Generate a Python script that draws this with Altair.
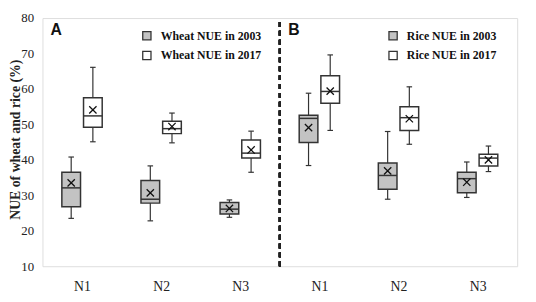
import altair as alt
import pandas as pd

# ---- data ----
levels = ["N1", "N2", "N3"]
crops = ["Wheat", "Rice"]
years = ["2003", "2017"]

# stats order per level: whisker_low, q1, median, q3, whisker_high, mean
wheat_2003 = [[23.5, 26.8, 32.1, 36.5, 40.8, 33.5],
              [22.8, 27.8, 28.9, 34.2, 38.3, 30.7],
              [23.8, 24.7, 26.1, 28.0, 28.7, 26.3]]
wheat_2017 = [[45.1, 49.2, 52.4, 57.5, 66.1, 54.1],
              [44.8, 47.4, 48.8, 50.9, 53.2, 49.4],
              [36.5, 40.5, 41.9, 45.6, 48.1, 42.8]]
rice_2003 = [[38.4, 44.9, 51.7, 52.6, 58.8, 49.1],
             [28.9, 31.7, 35.6, 39.1, 48.0, 36.9],
             [29.4, 30.7, 34.7, 36.5, 39.4, 33.7]]
rice_2017 = [[48.3, 56.0, 59.3, 63.7, 69.6, 59.4],
             [44.4, 48.3, 51.9, 55.0, 60.6, 51.6],
             [36.7, 38.3, 40.5, 41.6, 43.9, 40.0]]

panel_labels = ["A", "B"]
y_ticks = [10, 20, 30, 40, 50, 60, 70, 80]

series = {("Wheat", "2003"): wheat_2003, ("Wheat", "2017"): wheat_2017,
          ("Rice", "2003"): rice_2003, ("Rice", "2017"): rice_2017}

rows = []
for ci, crop in enumerate(crops):
    for yr in years:
        for li, lev in enumerate(levels):
            lo, q1, med, q3, hi, mean = series[(crop, yr)][li]
            rows.append(dict(crop=crop, year=yr, level=lev, slot=ci * 3 + li,
                             series=f"{crop} NUE in {yr}",
                             lo=lo, q1=q1, med=med, q3=q3, hi=hi, mean=mean))
df = pd.DataFrame(rows)

GRAY = "#c3c3c3"
STROKE = "#333333"
SERIF = "Liberation Serif"

xscale = alt.Scale(domain=[0, 6], nice=False, zero=False)
yscale = alt.Scale(domain=[10, 80], nice=False, zero=False)

label_js = "[" + ",".join(f"'{l}'" for l in levels * 2) + "]"

base = alt.Chart(df).transform_calculate(
    c="datum.slot + 0.5 + (datum.year == '2003' ? -0.137 : 0.137)"
).transform_calculate(
    bl="datum.c - 0.118", br="datum.c + 0.118",
    cl="datum.c - 0.035", cr="datum.c + 0.035"
)

xaxis = alt.Axis(values=[0.5, 1.5, 2.5, 3.5, 4.5, 5.5],
                 labelExpr=f"{label_js}[floor(datum.value)]",
                 title=None, grid=False, ticks=False, domain=False,
                 labelFont=SERIF, labelFontSize=14, labelColor="#222",
                 labelPadding=14)
yaxis = alt.Axis(values=y_ticks, tickCount=8, title="NUE of wheat and rice (%)",
                 grid=False, ticks=False, domain=False, labelFont=SERIF,
                 labelFontSize=13, labelColor="#222", labelPadding=9,
                 labelOverlap=False, labelFlush=False,
                 titleFont=SERIF, titleFontSize=14, titleFontWeight="bold",
                 titleColor="#222", titleBaseline="bottom",
                 titleX=-20, titleY=123)

whisk = base.mark_rule(color=STROKE, strokeWidth=1.2).encode(
    x=alt.X("c:Q", scale=xscale, axis=xaxis),
    y=alt.Y("lo:Q", scale=yscale, axis=yaxis),
    y2="hi:Q")
cap_lo = base.mark_rule(color=STROKE, strokeWidth=1.2).encode(
    x="cl:Q", x2="cr:Q", y="lo:Q")
cap_hi = base.mark_rule(color=STROKE, strokeWidth=1.2).encode(
    x="cl:Q", x2="cr:Q", y="hi:Q")


def boxes(crop, lx):
    dom = [f"{crop} NUE in {y}" for y in years]
    return base.transform_filter(f"datum.crop == '{crop}'").mark_rect(
        stroke=STROKE, strokeWidth=1.5).encode(
        x="bl:Q", x2="br:Q", y="q1:Q", y2="q3:Q",
        fill=alt.Fill("series:N", scale=alt.Scale(domain=dom, range=[GRAY, "white"]),
                      legend=alt.Legend(title=None, orient="none", legendX=lx,
                                        legendY=12, symbolType="square",
                                        symbolSize=70, symbolStrokeColor=STROKE,
                                        symbolStrokeWidth=1.3,
                                        labelFont=SERIF, labelFontSize=12,
                                        labelFontWeight="bold", labelColor="#111",
                                        rowPadding=6, labelOffset=8)))


med = base.mark_rule(color=STROKE, strokeWidth=1.5).encode(
    x="bl:Q", x2="br:Q", y="med:Q")
mean = base.mark_point(shape="M-1,-1L1,1M-1,1L1,-1", filled=False, size=55,
                       color="#111", strokeWidth=1.3, opacity=1).encode(
    x="c:Q", y="mean:Q")

divider = alt.Chart(df).mark_rule(color="#222", strokeWidth=2,
                                  strokeDash=[5, 4]).encode(
    x=alt.datum(3), y=alt.datum(10), y2=alt.datum(80))

letters = pd.DataFrame({"t": panel_labels, "px": [0.174, 3.18]})
panel = alt.Chart(letters).mark_text(font="Liberation Sans", fontSize=16,
                                     fontWeight="bold", color="#111",
                                     baseline="alphabetic").encode(
    x="px:Q", y=alt.datum(75.3), text="t:N")

chart = alt.layer(whisk, cap_lo, cap_hi, boxes("Wheat", 100), boxes("Rice", 350),
                  med, mean, divider, panel).resolve_scale(
    fill="independent").properties(
    width=482, height=252, autosize="none",
    padding={"left": 35, "top": 8, "right": 11, "bottom": 26}
).configure_view(stroke="#333", strokeWidth=1.6).configure_axisY(
    labelOverlap=False).configure(background="white")

chart.save("out.html", embed_options={"renderer": "svg", "actions": False})
